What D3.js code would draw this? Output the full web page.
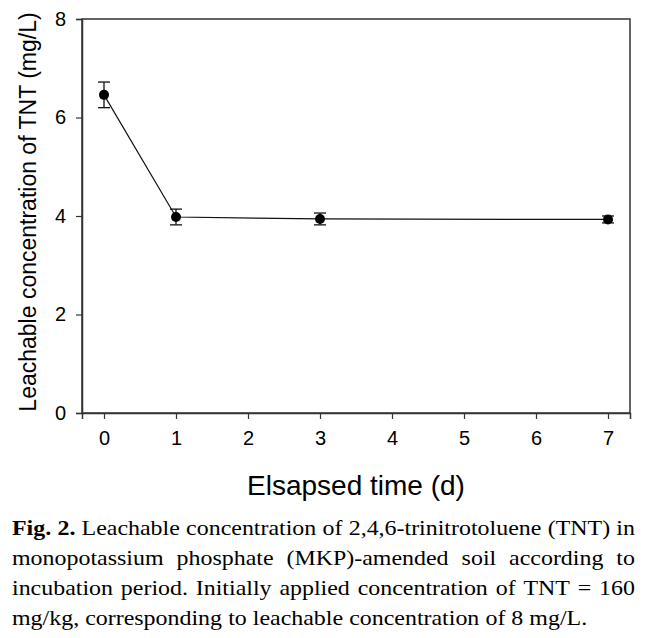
<!DOCTYPE html>
<html>
<head>
<meta charset="utf-8">
<script src="https://cdn.jsdelivr.net/npm/d3@7"></script>
<style>
  body { margin: 0; background: #fff; }
  svg { display: block; }
</style>
</head>
<body>
<div id="chart"></div>
<script>
// leachable TNT over incubation time (mean with error bars)
const days = [0, 1, 3, 7];
const tntConc = [6.46, 3.98, 3.94, 3.93];
const tntErr = [0.26, 0.16, 0.12, 0.07];
const xTicks = [0, 1, 2, 3, 4, 5, 6, 7];
const yTicks = [0, 2, 4, 6, 8];
const xTitle = "Elsapsed time (d)";
const yTitle = "Leachable concentration of TNT (mg/L)";
const captionLines = [
    "Fig. 2. Leachable concentration of 2,4,6-trinitrotoluene (TNT) in",
    "monopotassium phosphate (MKP)-amended soil according to",
    "incubation period. Initially applied concentration of TNT = 160",
    "mg/kg, corresponding to leachable concentration of 8 mg/L."
];

const W = 655, H = 638;
const plot = { left: 82, right: 630, top: 19, bottom: 413 };

const svg = d3.select("#chart").append("svg")
    .attr("width", W)
    .attr("height", H);

const x = d3.scaleLinear().domain([-22 / 72, 7 + 22 / 72]).range([plot.left, plot.right]);
const y = d3.scaleLinear().domain([0, 8]).range([plot.bottom, plot.top]);

const sans = "'Liberation Sans', Arial, sans-serif";

// frame
svg.append("rect")
    .attr("x", plot.left).attr("y", plot.top)
    .attr("width", plot.right - plot.left).attr("height", plot.bottom - plot.top)
    .attr("fill", "none").attr("stroke", "#333").attr("stroke-width", 1.5);

// axes
const xAxis = svg.append("g")
    .attr("transform", `translate(0,${plot.bottom})`)
    .call(d3.axisBottom(x).tickValues(xTicks).tickSize(6).tickPadding(12).tickFormat(d3.format("d")));
const yAxis = svg.append("g")
    .attr("transform", `translate(${plot.left},0)`)
    .call(d3.axisLeft(y).tickValues(yTicks).tickSize(6).tickPadding(10).tickFormat(d3.format("d")));

[xAxis, yAxis].forEach(g => {
    g.select(".domain").attr("stroke", "#333").attr("stroke-width", 1.5);
    g.selectAll(".tick line").attr("stroke", "#333").attr("stroke-width", 1.2);
    g.selectAll(".tick text").attr("font-family", sans).attr("font-size", 20).attr("fill", "#000");
});

// axis titles
svg.append("text")
    .attr("x", (plot.left + plot.right) / 2)
    .attr("y", 495)
    .attr("text-anchor", "middle")
    .attr("font-family", sans).attr("font-size", 28)
    .text(xTitle);

svg.append("text")
    .attr("transform", `translate(36,212) rotate(-90)`)
    .attr("text-anchor", "middle")
    .attr("font-family", sans).attr("font-size", 23)
    .text(yTitle);

// data
const points = days.map((d, i) => ({ day: d, value: tntConc[i], err: tntErr[i] }));

const line = d3.line()
    .x(d => x(d.day))
    .y(d => y(d.value));

svg.append("path")
    .datum(points)
    .attr("fill", "none")
    .attr("stroke", "#111")
    .attr("stroke-width", 1.2)
    .attr("d", line);

const bars = svg.append("g").attr("stroke", "#111").attr("stroke-width", 1.3);
points.forEach(p => {
    const cx = x(p.day);
    bars.append("line")
        .attr("x1", cx).attr("x2", cx)
        .attr("y1", y(p.value - p.err)).attr("y2", y(p.value + p.err));
    [p.value - p.err, p.value + p.err].forEach(v => {
        bars.append("line")
            .attr("x1", cx - 6).attr("x2", cx + 6)
            .attr("y1", y(v)).attr("y2", y(v));
    });
});

svg.append("g")
    .selectAll("circle")
    .data(points)
    .join("circle")
    .attr("cx", d => x(d.day))
    .attr("cy", d => y(d.value))
    .attr("r", 5)
    .attr("fill", "#000");

// caption, justified like the printed figure (print face is a bit wide, so stretch it)
const serif = "'Liberation Serif', 'Times New Roman', serif";
const capLeft = 12, capRight = 635, capTop = 535, capLead = 30, stretch = 1.14;

captionLines.forEach((str, li) => {
    const words = str.split(" ");
    const g = svg.append("g");
    const nodes = words.map((w, wi) => g.append("text")
        .attr("font-family", serif)
        .attr("font-size", 21)
        .attr("font-weight", li === 0 && wi < 2 ? "bold" : "normal")
        .text(w));
    const widths = nodes.map(n => n.node().getComputedTextLength() * stretch);
    const total = d3.sum(widths);
    const last = li === captionLines.length - 1;
    const gap = last ? 6 : (capRight - capLeft - total) / (words.length - 1);
    let cx = capLeft;
    nodes.forEach((n, i) => {
        n.attr("transform", `translate(${cx},${capTop + li * capLead}) scale(${stretch},1)`);
        cx += widths[i] + gap;
    });
});
</script>
</body>
</html>
